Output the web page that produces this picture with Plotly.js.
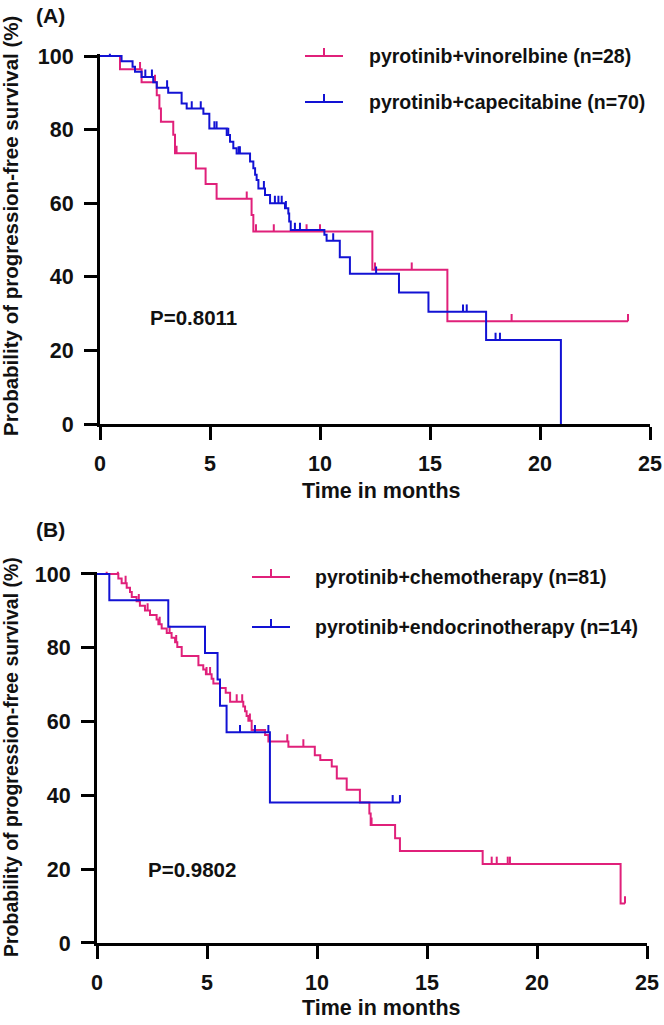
<!DOCTYPE html>
<html><head><meta charset="utf-8">
<script src="https://cdn.plot.ly/plotly-3.0.1.min.js"></script>
<style>html,body{margin:0;padding:0;background:#fff}#chart{width:664px;height:1025px}</style>
</head><body><div id="chart"></div>
<script>
// ---------- Panel A data ----------
const A_vin_name = "pyrotinib+vinorelbine (n=28)";
const A_vin_t = [0.91, 1.89, 2.58, 2.70, 2.77, 3.33, 3.41, 4.36, 4.80, 5.30, 6.89, 6.97, 12.38, 15.79];
const A_vin_s = [96.4, 92.9, 89.3, 85.7, 82.1, 78.6, 73.6, 69.4, 65.2, 61.2, 56.8, 52.3, 41.9, 27.9];
const A_vin_end = 24.0;
const A_vin_cens = [1.82, 2.50, 3.48, 6.67, 7.09, 7.90, 9.39, 10.00, 12.50, 14.17, 18.71, 24.0];

const A_cap_name = "pyrotinib+capecitabine (n=70)";
const A_cap_t = [0.98, 1.48, 1.59, 1.89, 2.42, 2.58, 3.10, 3.71, 3.94, 4.70, 4.97, 5.76, 5.91, 6.06, 6.21, 6.82, 6.97, 7.05, 7.12, 7.20, 7.50, 7.73, 8.41, 8.56, 8.60, 8.67, 10.20, 10.30, 10.90, 11.36, 13.59, 14.93, 17.55, 20.95];
const A_cap_s = [98.6, 97.1, 95.7, 94.3, 92.9, 91.4, 90.0, 87.1, 85.7, 84.3, 80.3, 78.5, 76.7, 74.9, 73.5, 71.3, 69.5, 67.7, 66.3, 64.0, 62.2, 60.0, 58.6, 57.2, 55.0, 52.7, 51.4, 49.8, 45.3, 40.8, 35.7, 30.5, 22.8, 0];
const A_cap_end = 20.95;
const A_cap_cens = [0.45, 2.06, 2.36, 3.05, 4.17, 4.58, 5.20, 5.30, 5.83, 6.30, 6.36, 7.45, 7.95, 8.11, 8.26, 8.45, 8.86, 9.09, 10.60, 12.55, 16.50, 16.67, 17.98, 18.18];
const A_p = "P=0.8011";

// ---------- Panel B data ----------
const B_che_name = "pyrotinib+chemotherapy (n=81)";
const B_che_t = [0.97, 1.12, 1.35, 1.50, 1.58, 1.80, 1.95, 2.18, 2.41, 2.71, 2.79, 2.94, 3.17, 3.39, 3.55, 3.65, 3.85, 4.61, 4.83, 4.95, 5.21, 5.29, 5.59, 5.85, 6.05, 6.65, 6.73, 6.80, 6.88, 7.03, 7.64, 7.79, 8.70, 9.90, 10.15, 10.67, 10.90, 11.35, 11.95, 12.38, 12.44, 13.55, 13.77, 17.53, 23.80];
const B_che_s = [98.8, 97.5, 96.3, 95.1, 93.8, 92.6, 91.4, 90.1, 88.9, 87.7, 86.4, 85.2, 84.0, 82.7, 81.5, 80.2, 77.8, 75.3, 74.1, 72.8, 71.6, 70.3, 69.1, 67.8, 65.4, 64.1, 62.8, 61.5, 60.2, 57.7, 56.4, 54.6, 53.2, 50.9, 49.6, 47.8, 44.6, 41.5, 38.1, 35.1, 32.0, 28.4, 24.9, 21.4, 10.7];
const B_che_end = 24.0;
const B_che_cens = [0.44, 0.95, 1.30, 1.90, 2.30, 2.85, 3.30, 3.60, 4.98, 5.14, 6.35, 6.60, 6.95, 8.65, 9.38, 12.48, 17.94, 18.17, 18.67, 18.77, 24.0];

const B_end_name = "pyrotinib+endocrinotherapy (n=14)";
const B_end_t = [0.56, 3.24, 4.91, 5.48, 5.59, 5.89, 7.86];
const B_end_s = [92.9, 85.7, 78.6, 71.4, 64.3, 57.1, 38.1];
const B_end_end = 13.77;
const B_end_cens = [6.50, 7.18, 7.79, 13.44, 13.77];
const B_p = "P=0.9802";

const xTicks = [0, 5, 10, 15, 20, 25];
const yTicks = [0, 20, 40, 60, 80, 100];
const xTitle = "Time in months";
const yTitle = "Probability of progression-free survival (%)";

// ---------- styling ----------
const PINK = "#E0207A";
const BLUE = "#1212D4";
const FONT = "Liberation Sans, Arial, sans-serif";
const W = 664, H = 1025;
const px = v => v / W;
const py = v => 1 - v / H;

function stepXY(t, s, end) {
  const x = [0], y = [100];
  for (let i = 0; i < t.length; i++) { x.push(t[i]); y.push(s[i]); }
  if (end > t[t.length - 1]) { x.push(end); y.push(s[s.length - 1]); }
  return {x, y};
}
function survAt(t, s, time) {
  let v = 100;
  for (let i = 0; i < t.length; i++) { if (t[i] <= time) v = s[i]; }
  return v;
}
function curve(t, s, end, color, xa, ya) {
  const d = stepXY(t, s, end);
  return {x: d.x, y: d.y, xaxis: xa, yaxis: ya, mode: "lines", type: "scatter",
    line: {shape: "hv", color: color, width: 2}, showlegend: false, hoverinfo: "skip"};
}
function cens(t, s, c, color, xa, ya) {
  return {x: c, y: c.map(v => survAt(t, s, v)), xaxis: xa, yaxis: ya, mode: "markers", type: "scatter",
    marker: {size: 2, color: "rgba(0,0,0,0)"}, cliponaxis: false, showlegend: false, hoverinfo: "skip",
    error_y: {type: "constant", symmetric: false, value: 2, valueminus: 0, width: 0, thickness: 2, color: color}};
}

const data = [
  curve(A_vin_t, A_vin_s, A_vin_end, PINK, "x", "y"),
  cens(A_vin_t, A_vin_s, A_vin_cens, PINK, "x", "y"),
  curve(A_cap_t, A_cap_s, A_cap_end, BLUE, "x", "y"),
  cens(A_cap_t, A_cap_s, A_cap_cens, BLUE, "x", "y"),
  curve(B_che_t, B_che_s, B_che_end, PINK, "x2", "y2"),
  cens(B_che_t, B_che_s, B_che_cens, PINK, "x2", "y2"),
  curve(B_end_t, B_end_s, B_end_end, BLUE, "x2", "y2"),
  cens(B_end_t, B_end_s, B_end_cens, BLUE, "x2", "y2")
];

function xax(domain, anchor) {
  return {domain: domain, anchor: anchor, range: [0, 25], tickvals: xTicks, ticktext: xTicks.map(String),
    ticks: "outside", ticklen: 13, tickwidth: 3, tickcolor: "#000", showline: true, linewidth: 3, linecolor: "#000",
    showgrid: false, zeroline: false, ticklabelstandoff: 5,
    tickfont: {family: FONT, size: 21.5, color: "#111", weight: "bold"}, fixedrange: true};
}
function yax(domain, anchor) {
  return {domain: domain, anchor: anchor, range: [0, 100.6], tickvals: yTicks, ticktext: yTicks.map(String),
    ticks: "outside", ticklen: 13, tickwidth: 3, tickcolor: "#000", showline: true, linewidth: 3, linecolor: "#000",
    showgrid: false, zeroline: false, ticklabelstandoff: 6,
    tickfont: {family: FONT, size: 21.5, color: "#111", weight: "bold"}, fixedrange: true};
}

const shapes = [];
const annotations = [];
function txt(text, x, y, size, xanchor, extra) {
  annotations.push(Object.assign({text: text, x: px(x), y: py(y), xref: "paper", yref: "paper",
    xanchor: xanchor || "center", yanchor: "middle", showarrow: false,
    font: {family: FONT, size: size, color: "#111", weight: "bold"}}, extra || {}));
}
function legendItem(name, color, x0, x1, y, tx) {
  shapes.push({type: "line", xref: "paper", yref: "paper", x0: px(x0), x1: px(x1), y0: py(y), y1: py(y),
    line: {color: color, width: 2}});
  const xm = (x0 + x1) / 2;
  shapes.push({type: "line", xref: "paper", yref: "paper", x0: px(xm), x1: px(xm), y0: py(y), y1: py(y - 8),
    line: {color: color, width: 2}});
  txt(name, tx, y, 19.5, "left");
}

txt("(A)", 50, 15, 21);
txt("(B)", 50, 529, 21);
legendItem(A_vin_name, PINK, 305, 343, 56, 367);
legendItem(A_cap_name, BLUE, 305, 343, 102, 367);
legendItem(B_che_name, PINK, 252, 290, 577, 313);
legendItem(B_end_name, BLUE, 252, 290, 627, 313);
txt(A_p, 148, 317, 20.5, "left");
txt(B_p, 146, 869, 20.5, "left");
txt(xTitle, 381, 491, 21.5);
txt(xTitle, 381, 1008, 21.5);
txt(yTitle, 11, 226, 20.5, "center", {textangle: -90});
txt(yTitle, 11, 757, 19.5, "center", {textangle: -90});

const layout = {
  width: W, height: H, margin: {l: 0, r: 0, t: 0, b: 0}, paper_bgcolor: "#fff", plot_bgcolor: "#fff",
  showlegend: false,
  xaxis: xax([px(100), px(650)], "y"),
  yaxis: yax([py(424), py(56 - 0.6 * 3.68)], "x"),
  xaxis2: xax([px(97), px(647)], "y2"),
  yaxis2: yax([py(943), py(574 - 0.6 * 3.69)], "x2"),
  shapes: shapes, annotations: annotations
};
Plotly.newPlot("chart", data, layout, {displayModeBar: false, staticPlot: true});
</script>
</body></html>
